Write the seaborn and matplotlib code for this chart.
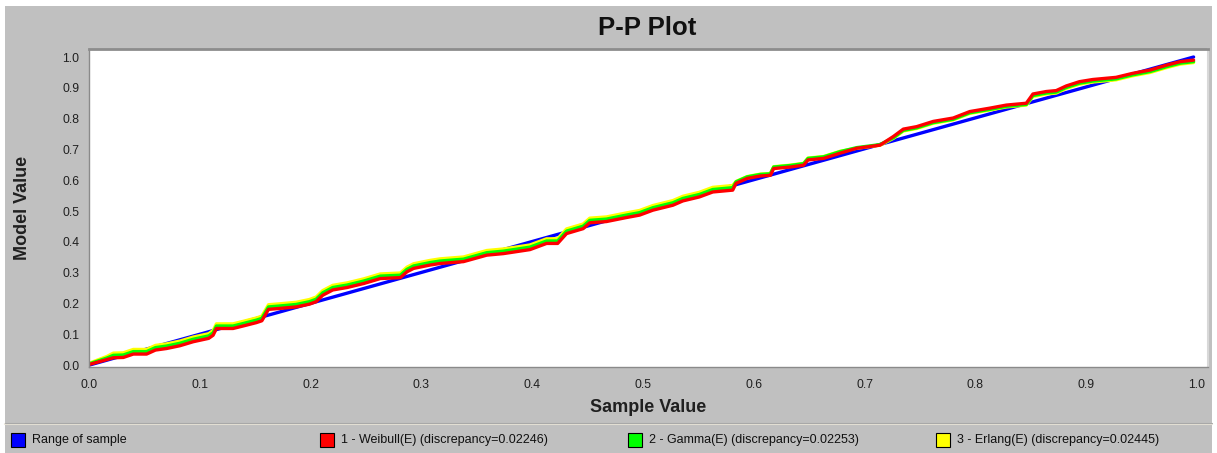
import matplotlib
matplotlib.use("Agg")
import matplotlib.pyplot as plt
from matplotlib.patches import Rectangle
from matplotlib.lines import Line2D
import pandas as pd
import seaborn as sns

# ---------------------------
# Data
# ---------------------------
sample_x = [
    0.000, 0.016, 0.022, 0.031, 0.040, 0.052, 0.060, 0.070, 0.082, 0.094, 0.108, 0.112,
    0.115, 0.130, 0.139, 0.151, 0.156, 0.162, 0.172, 0.187, 0.199, 0.205, 0.211, 0.220,
    0.233, 0.248, 0.263, 0.281, 0.287, 0.293, 0.308, 0.317, 0.338, 0.359, 0.374, 0.398,
    0.413, 0.423, 0.431, 0.446, 0.452, 0.467, 0.485, 0.497, 0.509, 0.527, 0.536, 0.551,
    0.563, 0.581, 0.584, 0.594, 0.606, 0.615, 0.618, 0.633, 0.645, 0.649, 0.663, 0.678,
    0.693, 0.708, 0.714, 0.726, 0.735, 0.747, 0.762, 0.780, 0.795, 0.813, 0.828, 0.846,
    0.852, 0.864, 0.873, 0.882, 0.894, 0.906, 0.927, 0.942, 0.958, 0.973, 0.985, 0.997,
]
weibull_y = [
    0.002, 0.018, 0.024, 0.025, 0.036, 0.036, 0.049, 0.054, 0.063, 0.076, 0.087, 0.097,
    0.119, 0.119, 0.127, 0.138, 0.144, 0.181, 0.184, 0.189, 0.198, 0.206, 0.227, 0.244,
    0.252, 0.265, 0.281, 0.284, 0.303, 0.314, 0.325, 0.330, 0.336, 0.357, 0.362, 0.375,
    0.395, 0.395, 0.427, 0.443, 0.462, 0.466, 0.479, 0.487, 0.503, 0.519, 0.533, 0.546,
    0.562, 0.568, 0.590, 0.606, 0.614, 0.616, 0.638, 0.643, 0.649, 0.666, 0.671, 0.688,
    0.704, 0.711, 0.714, 0.742, 0.766, 0.774, 0.791, 0.802, 0.823, 0.834, 0.844, 0.850,
    0.880, 0.888, 0.891, 0.906, 0.920, 0.927, 0.934, 0.947, 0.958, 0.974, 0.985, 0.990,
]
gamma_y = [
    0.004, 0.023, 0.032, 0.033, 0.044, 0.044, 0.057, 0.062, 0.071, 0.084, 0.095, 0.105,
    0.127, 0.127, 0.135, 0.146, 0.152, 0.189, 0.192, 0.197, 0.206, 0.214, 0.235, 0.252,
    0.260, 0.273, 0.289, 0.292, 0.311, 0.322, 0.333, 0.338, 0.344, 0.365, 0.370, 0.383,
    0.403, 0.403, 0.435, 0.451, 0.470, 0.474, 0.487, 0.495, 0.511, 0.527, 0.541, 0.554,
    0.570, 0.576, 0.595, 0.611, 0.619, 0.621, 0.643, 0.648, 0.654, 0.671, 0.676, 0.693,
    0.706, 0.713, 0.716, 0.738, 0.762, 0.770, 0.787, 0.798, 0.819, 0.830, 0.840, 0.846,
    0.875, 0.883, 0.886, 0.901, 0.915, 0.922, 0.929, 0.942, 0.953, 0.969, 0.980, 0.985,
]
erlang_y = [
    0.006, 0.028, 0.039, 0.040, 0.051, 0.051, 0.064, 0.069, 0.078, 0.091, 0.102, 0.112,
    0.134, 0.134, 0.142, 0.153, 0.159, 0.196, 0.199, 0.204, 0.213, 0.221, 0.242, 0.259,
    0.267, 0.280, 0.296, 0.299, 0.318, 0.329, 0.340, 0.345, 0.351, 0.372, 0.377, 0.390,
    0.410, 0.410, 0.442, 0.458, 0.477, 0.481, 0.494, 0.502, 0.518, 0.534, 0.548, 0.561,
    0.577, 0.583, 0.596, 0.612, 0.620, 0.622, 0.644, 0.649, 0.655, 0.672, 0.677, 0.694,
    0.704, 0.711, 0.714, 0.736, 0.760, 0.768, 0.785, 0.796, 0.817, 0.828, 0.838, 0.844,
    0.872, 0.880, 0.883, 0.898, 0.912, 0.919, 0.926, 0.939, 0.950, 0.966, 0.977, 0.982,
]
range_x = [0.0, 0.997]
range_y = [0.0, 1.0]

legend_labels = [
    "Range of sample",
    "1 - Weibull(E) (discrepancy=0.02246)",
    "2 - Gamma(E) (discrepancy=0.02253)",
    "3 - Erlang(E) (discrepancy=0.02445)",
]
legend_colors = ["#0000FF", "#FF0000", "#00FF00", "#FFFF00"]
ticks = [0.0, 0.1, 0.2, 0.3, 0.4, 0.5, 0.6, 0.7, 0.8, 0.9, 1.0]

# ---------------------------
# Figure setup
# ---------------------------
sns.set_style("white")
plt.rcParams['font.family'] = ['Liberation Sans', 'DejaVu Sans']

W, H = 1217, 453
fig = plt.figure(figsize=(W / 100, H / 100), dpi=100, facecolor="white")


def fx(px):
    return px / W


def fy(py):
    return 1 - py / H


# gray panel behind everything
fig.patches.append(Rectangle((fx(5), 0), fx(1212) - fx(5), fy(6), transform=fig.transFigure,
                             facecolor="#C0C0C0", edgecolor="none", zorder=-10))
# separator above the legend strip
fig.add_artist(Line2D([fx(5), fx(1212)], [fy(424), fy(424)], transform=fig.transFigure,
                      color="#E6E2D6", lw=1.5))
fig.add_artist(Line2D([fx(5), fx(1212)], [fy(422.5), fy(422.5)], transform=fig.transFigure,
                      color="#A8A8A8", lw=0.8))

ax = fig.add_axes([fx(89), fy(367), fx(1208) - fx(89), (367 - 49) / H])
ax.set_facecolor("white")

# ---------------------------
# Lines
# ---------------------------
sns.lineplot(x=range_x, y=range_y, ax=ax, color=legend_colors[0], lw=2.4,
             sort=False, estimator=None)
for ys, col in [(erlang_y, legend_colors[3]), (gamma_y, legend_colors[2]), (weibull_y, legend_colors[1])]:
    df = pd.DataFrame({"x": sample_x, "y": ys})
    sns.lineplot(data=df, x="x", y="y", ax=ax, color=col, lw=2.4, sort=False, estimator=None)

ax.set_xlim(0, 1.01)
ax.set_ylim(-0.006, 1.026)
ax.set_xticks(ticks)
ax.set_yticks(ticks)
ax.set_xticklabels([f"{t:.1f}" for t in ticks])
ax.set_yticklabels([f"{t:.1f}" for t in ticks])
ax.tick_params(axis="both", direction="out", length=3, width=0.8, color="#505050",
               labelsize=8.8, labelcolor="#202020", pad=4)
ax.tick_params(axis="x", pad=6)
ax.set_xlabel("")
ax.set_ylabel("")

for side in ["left", "bottom"]:
    ax.spines[side].set_color("#8A8A8A")
    ax.spines[side].set_linewidth(1.0)
ax.spines["top"].set_color("#8C8C8C")
ax.spines["top"].set_linewidth(2.0)
ax.spines["right"].set_color("#D8D8D8")
ax.spines["right"].set_linewidth(1.5)

# ---------------------------
# Titles
# ---------------------------
fig.text(fx(647), fy(35), "P-P Plot", ha="center", va="baseline", fontsize=18.5,
         fontweight="bold", color="#101010")
fig.text(fx(648), fy(411.5), "Sample Value", ha="center", va="baseline", fontsize=13,
         fontweight="bold", color="#202020")
fig.text(fx(23), fy(208), "Model Value", ha="center", va="center", fontsize=13,
         fontweight="bold", color="#202020", rotation=90)

# ---------------------------
# Legend strip
# ---------------------------
legend_x = [11, 320, 628, 936]
for lx, lab, col in zip(legend_x, legend_labels, legend_colors):
    fig.patches.append(Rectangle((fx(lx), fy(447)), 14 / W, 14 / H, transform=fig.transFigure,
                                 facecolor=col, edgecolor="black", lw=0.8))
    fig.text(fx(lx + 21), fy(440), lab, ha="left", va="center", fontsize=9, color="#101010")

fig.savefig("out.png", dpi=100, facecolor=fig.get_facecolor())
